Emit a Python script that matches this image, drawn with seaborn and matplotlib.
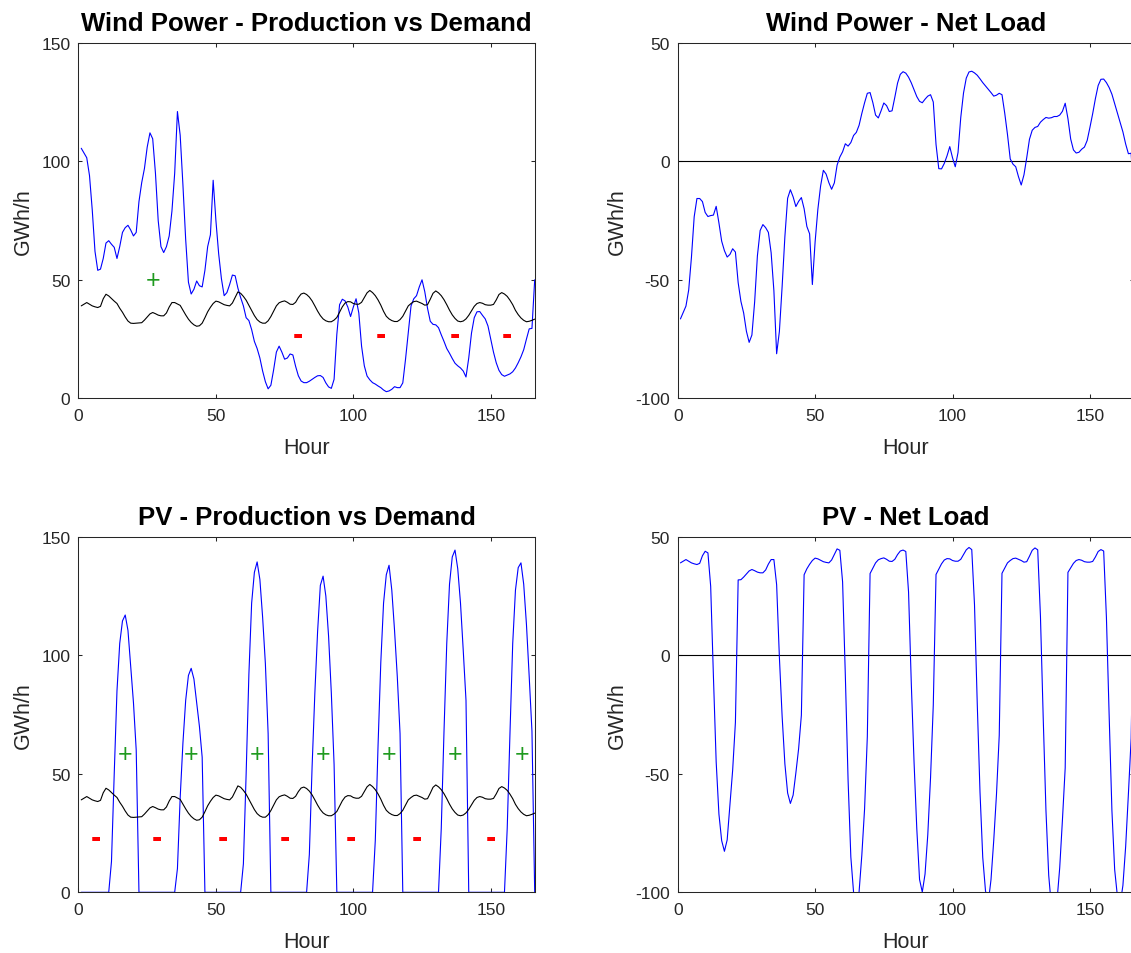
import matplotlib
matplotlib.use("Agg")
import matplotlib.pyplot as plt
import numpy as np
import pandas as pd
import seaborn as sns

# ---------------- data (hourly, GWh/h) ----------------
hours = list(range(1, 167))

demand = [39, 39.7, 40.4, 39.7, 39, 38.6, 38.3, 38.8, 42, 43.9,
          43.2, 42.1, 41, 40, 38, 36.3, 34.3, 32.6, 31.7, 31.6,
          31.7, 31.8, 31.9, 33, 34.3, 35.6, 36.2, 35.7, 35.1, 34.8,
          34.8, 36, 38.5, 40.4, 40.4, 39.8, 39.2, 37.2, 35.2, 33.4,
          32, 31, 30.4, 30.6, 31.7, 34, 36.5, 38.4, 40, 41,
          40.7, 40.1, 39.5, 39.2, 39, 40.2, 42.6, 44.9, 44.3, 43,
          41.4, 39.2, 36.9, 34.9, 33.2, 32.2, 31.7, 31.7, 32.7, 34.5,
          36.8, 39, 40.3, 40.8, 41.1, 40.5, 39.7, 39.6, 40.5, 42.5,
          44, 44.4, 43.8, 42.7, 41.1, 39, 36.8, 34.9, 33.5, 32.7,
          32.3, 32.3, 33, 34.1, 36.4, 38.6, 40.2, 40.8, 40.7, 40,
          39.7, 39.7, 40.5, 42.5, 44.5, 45.5, 44.6, 43.3, 41.5, 39.3,
          36.7, 34.6, 33.5, 32.8, 32.4, 32.4, 33.2, 34.6, 36.8, 39,
          40, 40.8, 41, 40.5, 40, 39.3, 39.5, 41.8, 44.3, 45.3,
          44.5, 43.3, 41.6, 39.5, 37.2, 35.2, 33.7, 32.6, 32.3, 32.6,
          33.5, 35, 36.9, 38.8, 40, 40.4, 40.1, 39.5, 39.3, 39.3,
          39.6, 41.5, 43.8, 44.6, 44, 43, 41.4, 39.5, 37.1, 35.3,
          33.9, 32.9, 32.3, 32.5, 32.9, 33.4]

wind = [105.5, 103.5, 101.5, 94, 79.5, 62, 54, 54.5, 59, 65.5,
        66.5, 65, 63.7, 59, 64, 70, 72, 73, 71, 68.5,
        70, 83, 91, 97, 106, 112, 109.5, 95, 75, 64,
        61.5, 64, 68.5, 79, 95, 121, 111, 90, 67, 49,
        44, 46, 49.5, 47.5, 47, 54, 64, 69, 92, 75,
        61, 50.5, 43.3, 44.6, 48, 52, 51.7, 46.5, 42.5, 39,
        34, 32.8, 29, 24, 21, 17, 11.5, 7, 4, 5.5,
        12, 19.5, 22, 19.5, 16.5, 17, 18.7, 18.3, 13.5, 9.5,
        7.3, 6.6, 6.6, 7.2, 8, 8.8, 9.5, 9.6, 8.8, 6.5,
        4.8, 4.2, 8, 27, 39.5, 41.8, 41.1, 38.5, 34.5, 38.5,
        42, 36, 22, 13.7, 9.4, 7.8, 6.6, 6, 5.2, 4.5,
        3.5, 2.8, 3.1, 3.8, 4.9, 4.5, 4.5, 6.5, 16.5, 27.7,
        39, 42, 43.3, 47, 50, 45, 38, 32.5, 31.2, 31,
        29.8, 26.8, 24, 21, 19, 16.8, 14.8, 13.7, 12.8, 11.5,
        9, 17, 27.5, 34, 36.5, 36.6, 35, 33.5, 30.5, 25,
        19.5, 15, 11.8, 10, 9.3, 9.8, 10.3, 11.2, 12.8, 15,
        17.5, 20.5, 25, 29.3, 29.5, 50]

pv = [0, 0, 0, 0, 0, 0, 0, 0, 0, 0,
      0, 13, 50, 85, 105, 114.5, 117, 110.5, 95, 80,
      60, 0, 0, 0, 0, 0, 0, 0, 0, 0,
      0, 0, 0, 0, 0, 10, 40, 63, 81, 91.5,
      94.5, 90, 80, 70, 57, 0, 0, 0, 0, 0,
      0, 0, 0, 0, 0, 0, 0, 0, 0, 12,
      50, 92, 122, 135, 139.4, 132, 116, 96.5, 67, 0,
      0, 0, 0, 0, 0, 0, 0, 0, 0, 0,
      0, 0, 0, 16, 53, 84, 110, 129.5, 133.4, 125,
      108, 84, 54, 0, 0, 0, 0, 0, 0, 0,
      0, 0, 0, 0, 0, 0, 0, 22, 62, 97,
      122, 134, 138, 127.5, 110.5, 91, 67, 0, 0, 0,
      0, 0, 0, 0, 0, 0, 0, 0, 0, 0,
      0, 27, 68, 105, 130, 141.5, 144.4, 136.5, 122, 102,
      81, 0, 0, 0, 0, 0, 0, 0, 0, 0,
      0, 0, 0, 0, 0, 27, 67, 105, 127.5, 137,
      139, 130, 113, 91, 68, 0]

# surplus (+) / deficit (-) annotation anchors (hour, GWh/h)
wind_plus_x, wind_plus_y = [27], 50
wind_minus_x, wind_minus_y = [80, 110, 137, 156], 26.6
pv_plus_x, pv_plus_y = [17, 41, 65, 89, 113, 137, 161.5], 58.5
pv_minus_x, pv_minus_y = [6.5, 28.5, 52.5, 75, 99, 123, 150], 23

titles = ["Wind Power - Production vs Demand", "Wind Power - Net Load",
          "PV - Production vs Demand", "PV - Net Load"]

df = pd.DataFrame({"Hour": hours, "Demand": demand, "Wind": wind, "PV": pv})
df["WindNet"] = df["Demand"] - df["Wind"]
df["PVNet"] = df["Demand"] - df["PV"]

# ---------------- style ----------------
sns.set_theme(style="white")
plt.rcParams["font.family"] = ["Liberation Sans", "DejaVu Sans"]
plt.rcParams["axes.unicode_minus"] = False
AX_COL = "#262626"
plt.rcParams.update({
    "axes.edgecolor": AX_COL, "axes.linewidth": 0.75,
    "xtick.color": AX_COL, "ytick.color": AX_COL,
    "xtick.direction": "in", "ytick.direction": "in",
    "xtick.top": True, "ytick.right": True,
    "xtick.bottom": True, "ytick.left": True,
    "xtick.major.size": 3.2, "ytick.major.size": 3.2,
    "xtick.major.width": 0.75, "ytick.major.width": 0.75,
    "xtick.major.pad": 7, "ytick.major.pad": 5.8,
    "xtick.labelsize": 12.5, "ytick.labelsize": 12.5,
})

fig = plt.figure(figsize=(11.31, 9.54), dpi=100)
FW, FH = 1131.0, 954.0
W = 456.2 / FW
H = 355.5 / FH
lefts = [78.5 / FW, 677.7 / FW]
bottoms = [1 - 399.3 / FH, 1 - 893.3 / FH]

BLUE = "#0000ff"
GREEN = "#1f9a1f"
RED = "#ff0000"
LW = 0.8


def style_axes(ax, title, ylim, yticks):
    ax.set_xlim(0, 166)
    ax.set_ylim(*ylim)
    ax.set_xticks([0, 50, 100, 150])
    ax.set_yticks(yticks)
    ax.set_xlabel("Hour", fontsize=15.5, color=AX_COL, labelpad=10.3)
    ax.set_ylabel("GWh/h", fontsize=15.5, color=AX_COL, labelpad=5)
    ax.set_title(title, fontsize=18.5, fontweight="bold", color="black", pad=9)
    for s in ax.spines.values():
        s.set_visible(True)
        s.set_color(AX_COL)


# Wind production vs demand
ax1 = fig.add_axes([lefts[0], bottoms[0], W, H])
sns.lineplot(data=df, x="Hour", y="Wind", color=BLUE, linewidth=LW, ax=ax1, zorder=3)
sns.lineplot(data=df, x="Hour", y="Demand", color="black", linewidth=LW, ax=ax1, zorder=3)
style_axes(ax1, titles[0], (0, 150), [0, 50, 100, 150])
for x in wind_plus_x:
    ax1.text(x, wind_plus_y, "+", color=GREEN, fontsize=18, ha="center", va="center")
for x in wind_minus_x:
    ax1.text(x, wind_minus_y, "-", color=RED, fontsize=22, fontweight="bold", ha="center", va="center")

# Wind net load
ax2 = fig.add_axes([lefts[1], bottoms[0], W, H])
ax2.axhline(0, color="black", linewidth=LW, zorder=2)
sns.lineplot(data=df, x="Hour", y="WindNet", color=BLUE, linewidth=LW, ax=ax2, zorder=3)
style_axes(ax2, titles[1], (-100, 50), [-100, -50, 0, 50])

# PV production vs demand
ax3 = fig.add_axes([lefts[0], bottoms[1], W, H])
sns.lineplot(data=df, x="Hour", y="PV", color=BLUE, linewidth=LW, ax=ax3, zorder=3)
sns.lineplot(data=df, x="Hour", y="Demand", color="black", linewidth=LW, ax=ax3, zorder=3)
style_axes(ax3, titles[2], (0, 150), [0, 50, 100, 150])
for x in pv_plus_x:
    ax3.text(x, pv_plus_y, "+", color=GREEN, fontsize=18, ha="center", va="center")
for x in pv_minus_x:
    ax3.text(x, pv_minus_y, "-", color=RED, fontsize=22, fontweight="bold", ha="center", va="center")

# PV net load
ax4 = fig.add_axes([lefts[1], bottoms[1], W, H])
ax4.axhline(0, color="black", linewidth=LW, zorder=2)
sns.lineplot(data=df, x="Hour", y="PVNet", color=BLUE, linewidth=LW, ax=ax4, zorder=3)
style_axes(ax4, titles[3], (-100, 50), [-100, -50, 0, 50])

fig.savefig("out.png", dpi=100)
